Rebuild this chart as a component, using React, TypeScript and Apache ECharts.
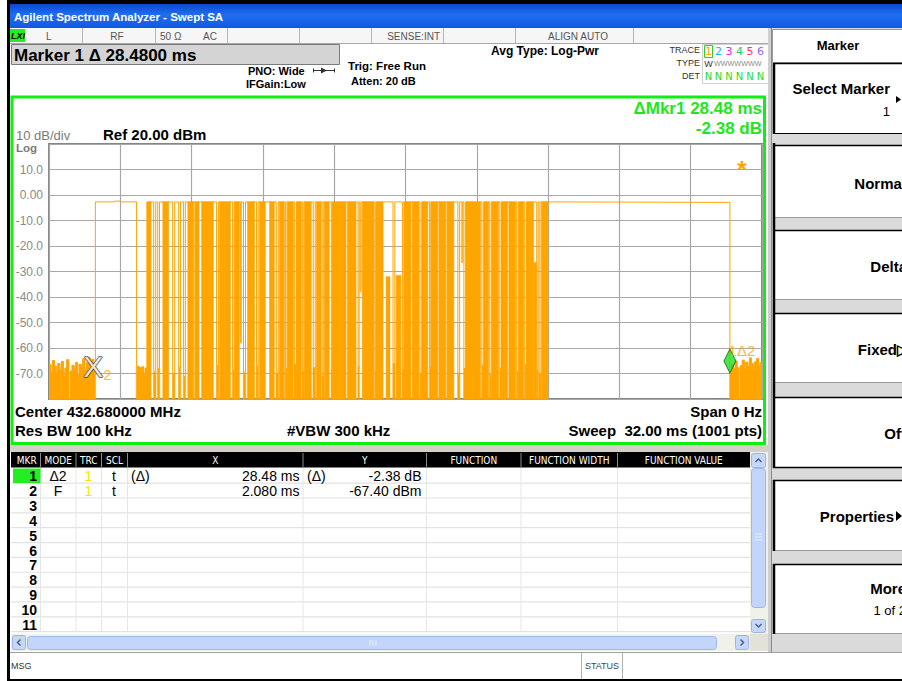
import React, { useEffect, useRef } from 'react';
import * as echarts from 'echarts';

// ---------------- data ----------------
const SWEEP_MS = 32;
const REF_LEVEL = 20;
const BOTTOM_LEVEL = -80;
const DIV_DB = 10;

const yTickValues = [10, 0, -10, -20, -30, -40, -50, -60, -70];
const yTickLabels = ['10.0', '0.00', '-10.0', '-20.0', '-30.0', '-40.0', '-50.0', '-60.0', '-70.0'];

const NOISE_DT = 0.08; // ms per displayed noise cell
// noise floor before the first burst (0 .. 2.08 ms)
const noiseA = [-66.5, -69.8, -64.9, -67.2, -70.4, -66.1, -68.7, -65.3, -71.2, -67.9, -64.6, -80, -69.1, -66.8, -68.3, -65.7, -70.6, -66.4, -67.9, -64.2, -68.8, -65.9, -63.8, -66.7, -64.5, -67.4];
// first long pulse (2.08 .. 3.93 ms)
const firstPulse: [number, number][] = [[2.08, -2.7], [2.95, -2.7], [2.95, -2.4], [3.2, -2.4], [3.2, -2.7], [3.93, -2.7]];
const NOISE_B_START = 3.93;
const noiseB = [-67.2, -67.5, -68.0, -67.4, -70.5, -67.9];
// burst region
const BURST_START = 4.41;
const BURST_END = 22.38;
const BURST_HIGH = -2.7;
// densely toggling parts [start ms, end ms, top dBm]
const denseBursts: [number, number, number][] = [
  [4.40, 4.57, BURST_HIGH], [5.12, 5.36, BURST_HIGH], [6.24, 6.48, BURST_HIGH], [6.55, 6.72, BURST_HIGH],
  [6.86, 7.15, BURST_HIGH], [7.16, 7.37, BURST_HIGH], [7.67, 7.86, BURST_HIGH], [7.89, 8.13, BURST_HIGH],
  [8.34, 8.53, BURST_HIGH], [8.92, 9.21, BURST_HIGH], [9.46, 9.70, BURST_HIGH], [9.91, 10.10, BURST_HIGH],
  [10.35, 10.55, BURST_HIGH], [10.71, 10.95, BURST_HIGH], [11.11, 11.31, BURST_HIGH], [11.47, 11.76, BURST_HIGH],
  [12.01, 12.20, BURST_HIGH], [12.37, 12.56, BURST_HIGH], [12.73, 13.01, BURST_HIGH], [13.04, 13.32, BURST_HIGH],
  [13.40, 13.77, BURST_HIGH], [14.07, 14.31, BURST_HIGH], [14.33, 14.58, BURST_HIGH], [14.69, 14.98, BURST_HIGH],
  [15.14, 15.29, -32.0], [15.59, 15.78, -31.5], [15.95, 16.23, BURST_HIGH], [16.31, 16.59, BURST_HIGH],
  [16.75, 16.99, BURST_HIGH], [17.16, 17.44, BURST_HIGH], [17.51, 17.80, BURST_HIGH], [17.87, 18.16, BURST_HIGH],
  [18.72, 19.01, BURST_HIGH], [19.03, 19.36, BURST_HIGH], [19.53, 19.72, BURST_HIGH], [19.89, 20.17, BURST_HIGH],
  [20.33, 20.57, BURST_HIGH], [20.65, 20.93, BURST_HIGH], [21.09, 21.29, BURST_HIGH], [21.45, 21.74, BURST_HIGH],
  [21.78, 21.86, -26.5], [22.12, 22.38, BURST_HIGH],
];
// short drops of the trace inside the burst region [start ms, end ms, level dBm]
const lowGaps: [number, number, number][] = [
  [4.70, 4.79, -69.5], [4.88, 4.96, -68.2], [5.55, 5.64, -70.1], [5.82, 5.90, -67.6], [6.04, 6.12, -71.3],
  [7.52, 7.61, -66.9], [8.24, 8.31, -68.8], [8.59, 8.63, -58.0], [8.73, 8.82, -69.7], [9.31, 9.39, -67.1],
  [10.20, 10.29, -70.4], [10.61, 10.68, -68.0], [11.01, 11.10, -66.5], [11.37, 11.44, -69.2], [11.86, 11.95, -67.8],
  [12.26, 12.33, -70.9], [12.67, 12.72, -68.4], [13.87, 13.92, -67.3], [13.96, 14.00, -38.0], [14.64, 14.68, -69.0],
  [15.44, 15.52, -66.2], [15.86, 15.93, -68.6], [16.65, 16.73, -70.2], [17.08, 17.14, -67.5], [18.35, 18.43, -69.9],
  [18.53, 18.57, -26.5], [18.62, 18.70, -68.1], [19.43, 19.51, -66.8], [19.78, 19.85, -70.6], [20.24, 20.31, -67.9],
  [20.99, 21.06, -69.3], [21.35, 21.43, -66.4], [21.89, 21.95, -68.7], [22.00, 22.08, -70.0],
];
// long flat part after the bursts
const FLAT_HIGH = -2.9;
const FLAT_END = 30.56;
// noise floor after the last burst (30.56 .. 32 ms)
const noiseC = [-69.8, -66.4, -68.1, -65.2, -67.7, -80, -66.9, -64.8, -68.4, -65.6, -67.3, -63.9, -66.1, -68.9, -65.4, -64.2, -67.0, -65.8];

// markers
const markerNames = ['1', '2'];
const markerTimes = [30.56, 2.08];
const markerLevels = [-69.78, -67.40];

// marker table
const tableHeaders = ['MKR', 'MODE', 'TRC', 'SCL', 'X', 'Y', 'FUNCTION', 'FUNCTION WIDTH', 'FUNCTION VALUE'];
const rowModes = ['Δ2', 'F'];
const rowTraces = ['1', '1'];
const rowScales = ['t', 't'];
const rowXPrefix = ['(Δ)', ''];
const rowX = ['28.48 ms', '2.080 ms'];
const rowYPrefix = ['(Δ)', ''];
const rowY = ['-2.38 dB', '-67.40 dBm'];

const softkeys = ['Normal', 'Delta', 'Fixed▷', 'Off'];

// ---------------- build ----------------
const ORANGE = '#ffa500';
const FONT = "'Liberation Sans', Arial, sans-serif";

function buildTrace(): [number, number][] {
  const pts: [number, number][] = [];
  noiseA.forEach((v, i) => { pts.push([i * NOISE_DT, v], [(i + 1) * NOISE_DT, v]); });
  firstPulse.forEach((p) => pts.push(p));
  noiseB.forEach((v, i) => { pts.push([NOISE_B_START + i * NOISE_DT, v], [NOISE_B_START + (i + 1) * NOISE_DT, v]); });
  pts.push([BURST_START, BURST_HIGH]);
  lowGaps.forEach(([s, e, l]) => { pts.push([s, BURST_HIGH], [s, l], [e, l], [e, BURST_HIGH]); });
  pts.push([BURST_END, BURST_HIGH], [BURST_END, FLAT_HIGH], [FLAT_END, FLAT_HIGH]);
  noiseC.forEach((v, i) => { pts.push([FLAT_END + i * NOISE_DT, v], [FLAT_END + (i + 1) * NOISE_DT, v]); });
  return pts;
}

function buildFills(): [number, number, number][] {
  const f: [number, number, number][] = [];
  noiseA.forEach((v, i) => f.push([i * NOISE_DT, (i + 1) * NOISE_DT, v]));
  noiseB.forEach((v, i) => f.push([NOISE_B_START + i * NOISE_DT, NOISE_B_START + (i + 1) * NOISE_DT, v]));
  denseBursts.forEach((d) => f.push(d));
  lowGaps.forEach(([s, e, l]) => { if (l < -60) f.push([s, e, l]); });
  noiseC.forEach((v, i) => f.push([FLAT_END + i * NOISE_DT, FLAT_END + (i + 1) * NOISE_DT, v]));
  return f;
}

// ---------------- chrome helpers ----------------
const R = (x: number, y: number, w: number, h: number, fill: any, stroke: string | null = null, lw = 1, r = 0) => ({
  type: 'rect', silent: true, shape: { x, y, width: w, height: h, r },
  style: { fill, stroke, lineWidth: lw },
});
const L = (x1: number, y1: number, x2: number, y2: number, stroke: string, lw = 1) => ({
  type: 'line', silent: true, shape: { x1, y1, x2, y2 }, style: { stroke, lineWidth: lw },
});
type TO = { size?: number; weight?: string; color?: string; align?: string; family?: string; italic?: boolean };
const T = (x: number, y: number, text: string, o: TO = {}) => ({
  type: 'text', silent: true, x, y,
  style: {
    text, fill: o.color || '#000', fontSize: o.size || 12, fontWeight: o.weight || 'normal',
    fontFamily: o.family || FONT, fontStyle: o.italic ? 'italic' : 'normal',
    align: o.align || 'left', verticalAlign: 'middle', textAlign: o.align || 'left', textVerticalAlign: 'middle',
  },
});
const P = (points: number[][], fill: string) => ({ type: 'polygon', silent: true, shape: { points }, style: { fill } });
const PL = (points: number[][], stroke: string, lw = 1) => ({ type: 'polyline', silent: true, shape: { points }, style: { stroke, lineWidth: lw, fill: 'none' } });

function buildChrome(): any[] {
  const g: any[] = [];
  // frame & title bar
  g.push(R(7, 0, 895, 4, '#000'));
  g.push(R(10, 4, 892, 24, new echarts.graphic.LinearGradient(0, 0, 0, 1, [
    { offset: 0, color: '#0a48d0' }, { offset: 0.45, color: '#1f6ff0' }, { offset: 1, color: '#1158e0' },
  ])));
  g.push(T(14, 16.5, 'Agilent Spectrum Analyzer - Swept SA', { size: 11.5, weight: 'bold', color: '#fff' }));
  g.push(R(7, 0, 3, 681, '#000'));

  // status row
  g.push(R(10, 28, 759, 15.5, '#f6f6f6'));
  g.push(L(10, 43.5, 769, 43.5, '#a8a8a8'));
  [82, 155, 227, 299, 371, 443, 515, 633].forEach((x) => g.push(L(x + 0.5, 28, x + 0.5, 43, '#b5b5b5')));
  g.push(R(10, 29, 15, 13, '#22ee22'));
  g.push(T(11, 35.5, 'LXI', { size: 9, weight: 'bold', italic: true }));
  const st = { size: 10, color: '#555' };
  g.push(T(46, 36, 'L', st));
  g.push(T(117, 36, 'RF', { ...st, align: 'center' }));
  g.push(T(160, 36, '50 Ω', st));
  g.push(T(203, 36, 'AC', st));
  g.push(T(440, 36, 'SENSE:INT', { ...st, align: 'right' }));
  g.push(T(578, 36, 'ALIGN AUTO', { ...st, align: 'center' }));

  // marker readout box and settings
  g.push(R(11.5, 44.5, 328, 20, '#d4d4d4', '#7a7a7a', 1));
  g.push(T(14, 55, 'Marker 1 Δ 28.4800 ms', { size: 17, weight: 'bold' }));
  g.push(T(248, 71, 'PNO: Wide', { size: 11, weight: 'bold' }));
  g.push(L(313, 70.5, 335, 70.5, '#333', 1));
  g.push(P([[321, 67.5], [327, 70.5], [321, 73.5]], '#333'));
  g.push(L(313.5, 68.5, 313.5, 72.5, '#333', 1));
  g.push(L(334.5, 68.5, 334.5, 72.5, '#333', 1));
  g.push(T(246, 84, 'IFGain:Low', { size: 11, weight: 'bold' }));
  g.push(T(348, 66, 'Trig: Free Run', { size: 11.5, weight: 'bold' }));
  g.push(T(351, 81, 'Atten: 20 dB', { size: 11, weight: 'bold' }));
  g.push(T(491, 51, 'Avg Type: Log-Pwr', { size: 12, weight: 'bold' }));

  // trace indicator
  g.push(T(700, 50, 'TRACE', { size: 9, color: '#333', align: 'right' }));
  g.push(T(700, 63, 'TYPE', { size: 9, color: '#333', align: 'right' }));
  g.push(T(700, 76, 'DET', { size: 9, color: '#333', align: 'right' }));
  g.push(R(702.5, 44.5, 66, 39, '#fff', '#d0d0d0', 1));
  g.push(R(704.5, 45.5, 8, 12, 'none', '#33cc33', 1));
  const trCols = [ORANGE, '#1eb4f0', '#ee22ee', '#22cc66', '#ff3366', '#9966ff'];
  const trX = [708.5, 718.5, 729, 739.5, 750, 760.5];
  trX.forEach((x, i) => {
    g.push(T(x, 51.5, String(i + 1), { size: 11, color: trCols[i], align: 'center', family: "'DejaVu Sans', sans-serif" }));
    g.push(T(x, 76, 'N', { size: 10, color: '#22dd22', align: 'center', family: "'DejaVu Sans', sans-serif" }));
  });
  g.push(T(708.5, 63.5, 'W', { size: 9, color: '#333', align: 'center' }));
  g.push(T(714, 63.5, 'WWWWWWW', { size: 7.2, color: '#888' }));

  // right softkey panel
  g.push(R(768, 28, 4, 624, '#cfcfcf'));
  g.push(L(771.5, 28, 771.5, 652, '#8c8c8c'));
  g.push(R(772, 28, 130, 624, '#dadada'));
  g.push(R(772.5, 29.5, 131, 33, '#fff', '#999', 1));
  g.push(T(838, 45.5, 'Marker', { size: 13, weight: 'bold', align: 'center' }));
  const btn = (y0: number, y1: number) => {
    g.push(R(773, y0, 130, y1 - y0, '#fff'));
    g.push(L(773, y0 + 0.5, 902, y0 + 0.5, '#000', 1.5));
    g.push(L(773, y1 - 0.5, 902, y1 - 0.5, '#9a9a9a', 1));
  };
  btn(63, 134);
  g.push(L(774, 63, 774, 134, '#000', 2.5));
  g.push(L(773, 133.5, 902, 133.5, '#000', 1));
  g.push(T(890, 88, 'Select Marker', { size: 15, weight: 'bold', align: 'right' }));
  g.push(T(890, 111, '1', { size: 13, align: 'right' }));
  g.push(P([[896, 96], [901, 99.5], [896, 103]], '#000'));
  const keyY = [[145, 218], [230, 300], [313, 383], [397, 468]];
  const keyTextY = [183, 266, 349, 433];
  const keyRight = [906, 907, 909, 906];
  keyY.forEach(([a, b], i) => {
    btn(a, b);
    g.push(T(keyRight[i], keyTextY[i], softkeys[i], { size: 15, weight: 'bold', align: 'right' }));
  });
  g.push(L(774, 143, 774, 468, '#000', 2.5));
  g.push(L(773, 467.5, 902, 467.5, '#000', 1.5));
  btn(480, 551);
  g.push(L(774, 480, 774, 551, '#000', 2.5));
  g.push(T(894, 516, 'Properties', { size: 15, weight: 'bold', align: 'right' }));
  g.push(P([[896, 511], [902, 516], [896, 521]], '#000'));
  btn(564, 634);
  g.push(L(774, 564, 774, 634, '#000', 2.5));
  g.push(T(906, 588, 'More', { size: 15, weight: 'bold', align: 'right' }));
  g.push(T(906, 610, '1 of 2', { size: 13, align: 'right' }));

  // display frame
  g.push(R(12, 97, 752.5, 346.5, 'none', '#11ee11', 3));
  g.push(T(16, 135.5, '10 dB/div', { size: 13, color: '#7a7a7a' }));
  g.push(T(16, 148, 'Log', { size: 11.5, weight: 'bold', color: '#7a7a7a' }));
  g.push(T(103, 134, 'Ref 20.00 dBm', { size: 15, weight: 'bold' }));
  g.push(T(762, 108, 'ΔMkr1 28.48 ms', { size: 17, weight: 'bold', color: '#1ee61e', align: 'right' }));
  g.push(T(762, 128.5, '-2.38 dB', { size: 17, weight: 'bold', color: '#1ee61e', align: 'right' }));
  g.push(T(742, 169, '*', { size: 24, weight: 'bold', color: ORANGE, align: 'center' }));
  g.push(T(15, 411, 'Center 432.680000 MHz', { size: 15, weight: 'bold' }));
  g.push(T(15, 430, 'Res BW 100 kHz', { size: 15, weight: 'bold' }));
  g.push(T(287, 430, '#VBW 300 kHz', { size: 15, weight: 'bold' }));
  g.push(T(762, 411, 'Span 0 Hz', { size: 15, weight: 'bold', align: 'right' }));
  g.push(T(762, 430, 'Sweep  32.00 ms (1001 pts)', { size: 15, weight: 'bold', align: 'right' }));

  // marker table
  g.push(R(10, 445, 758, 7, '#d4d0c8'));
  g.push(R(11, 452, 740, 15.5, '#000'));
  const colB = [13, 40.5, 76, 101.5, 127.5, 303, 426.5, 521, 617.5, 750];
  tableHeaders.forEach((h, i) => {
    g.push(T((colB[i] + colB[i + 1]) / 2, 460, h, { size: 10, color: '#fff', align: 'center', family: "'Liberation Sans Narrow', 'DejaVu Sans Condensed', sans-serif" }));
  });
  colB.slice(1, 9).forEach((x) => g.push(L(x, 453, x, 467, '#8a8a8a', 1)));
  const rowH = 14.85;
  const row0 = 468.3;
  for (let i = 0; i <= 11; i++) g.push(L(11, row0 + rowH * (i + 1), 750, row0 + rowH * (i + 1), '#e2e2e2', 1.2));
  colB.slice(1, 9).forEach((x) => g.push(L(x, 468, x, 632, '#e6e6e6', 1)));
  g.push(R(13, 468.5, 27.5, 14.5, '#22ee22'));
  for (let i = 0; i < 11; i++) {
    g.push(T(37, row0 + rowH * i + 8, String(i + 1), { size: 14, weight: 'bold', align: 'right' }));
  }
  rowModes.forEach((m, i) => {
    const y = row0 + rowH * i + 8;
    g.push(T(58, y, m, { size: 14, align: 'center' }));
    g.push(T(88.5, y, rowTraces[i], { size: 14, align: 'center', color: '#f5e800' }));
    g.push(T(114, y, rowScales[i], { size: 14, align: 'center' }));
    if (rowXPrefix[i]) g.push(T(131, y, rowXPrefix[i], { size: 14 }));
    g.push(T(299.5, y, rowX[i], { size: 14, align: 'right' }));
    if (rowYPrefix[i]) g.push(T(307, y, rowYPrefix[i], { size: 14 }));
    g.push(T(421.5, y, rowY[i], { size: 14, align: 'right' }));
  });
  // vertical scrollbar
  g.push(R(750, 452, 18, 182, '#f1f1ec'));
  g.push(R(751.5, 453.5, 14, 14, '#c7d7fa', '#9db4e4', 1, 2));
  g.push(PL([[755.5, 462], [758.5, 459], [761.5, 462]], '#4d6185', 1.5));
  g.push(R(751.5, 468.5, 14, 139, '#c3d5fb', '#9fb6e8', 1, 3));
  [534, 537, 540].forEach((y) => g.push(L(755, y, 762, y, '#e8efff', 1)));
  g.push(R(751.5, 619.5, 14, 13, '#c7d7fa', '#9db4e4', 1, 2));
  g.push(PL([[755.5, 624], [758.5, 627], [761.5, 624]], '#4d6185', 1.5));
  // horizontal scrollbar
  g.push(R(11, 634, 739, 17, '#f1f1ec'));
  g.push(R(12.5, 635.5, 13, 14, '#c7d7fa', '#9db4e4', 1, 2));
  g.push(PL([[20.5, 639.5], [17.5, 642.5], [20.5, 645.5]], '#4d6185', 1.5));
  g.push(R(27.5, 636.5, 689, 13, '#c3d5fb', '#9fb6e8', 1, 3));
  [370, 373, 376].forEach((x) => g.push(L(x, 640, x, 646, '#e8efff', 1)));
  g.push(R(735.5, 635.5, 13, 14, '#c7d7fa', '#9db4e4', 1, 2));
  g.push(PL([[740.5, 639.5], [743.5, 642.5], [740.5, 645.5]], '#4d6185', 1.5));
  g.push(R(750, 634, 18, 17, '#e4e2d8'));

  // bottom status bar
  g.push(R(10, 652, 892, 27, '#fff'));
  g.push(L(10, 652.5, 902, 652.5, '#a0a0a0', 1));
  g.push(T(11, 666, 'MSG', { size: 9, color: '#333' }));
  g.push(L(581.5, 653, 581.5, 679, '#b0b0b0', 1));
  g.push(L(622.5, 653, 622.5, 679, '#b0b0b0', 1));
  g.push(T(602, 666, 'STATUS', { size: 9, color: '#444', align: 'center' }));
  g.push(R(7, 679, 895, 2, '#000'));
  return g;
}

export default function App() {
  const ref = useRef<HTMLDivElement>(null);
  useEffect(() => {
    if (!ref.current) return;
    const chart = echarts.init(ref.current, undefined, { renderer: 'svg' });
    const trace = buildTrace();
    const fills = buildFills();
    const transparent = { color: 'rgba(0,0,0,0)' };
    chart.setOption({
      animation: false,
      backgroundColor: '#fff',
      grid: { left: 49, top: 144, width: 713, height: 255, show: true, borderColor: '#858585', borderWidth: 2, backgroundColor: 'transparent' },
      xAxis: {
        type: 'value', min: 0, max: SWEEP_MS, interval: SWEEP_MS / 10,
        axisLine: { show: false }, axisTick: { show: false }, axisLabel: { show: false },
        splitLine: { show: true, lineStyle: { color: '#a8a8a8', width: 1.2 } },
      },
      yAxis: {
        type: 'value', min: BOTTOM_LEVEL, max: REF_LEVEL, interval: DIV_DB,
        axisLine: { show: false }, axisTick: { show: false },
        axisLabel: {
          color: '#8a8a8a', fontSize: 12, fontFamily: FONT, margin: 6,
          formatter: (v: number) => { const i = yTickValues.indexOf(Math.round(v)); return i >= 0 ? yTickLabels[i] : ''; },
        },
        splitLine: { show: true, lineStyle: { color: '#a8a8a8', width: 1.2 } },
      },
      series: [
        {
          type: 'custom', name: 'fill', silent: true, clip: true, z: 2,
          encode: { x: [0, 1], y: 2 },
          data: fills,
          renderItem: (_p: any, api: any) => {
            const a = api.coord([api.value(0), api.value(2)]);
            const b = api.coord([api.value(1), BOTTOM_LEVEL]);
            return {
              type: 'rect',
              shape: { x: a[0] - 0.3, y: a[1], width: Math.max(b[0] - a[0], 0.8) + 0.6, height: b[1] - a[1] },
              style: { fill: ORANGE, stroke: ORANGE, lineWidth: 0.5 },
            };
          },
        },
        {
          type: 'line', name: 'Trace 1', data: trace, showSymbol: false, symbol: 'none', silent: true, z: 3,
          lineStyle: { color: ORANGE, width: 1 }, clip: true,
        },
        {
          type: 'scatter', name: 'markers', silent: true, z: 5, clip: false,
          data: [
            {
              value: [markerTimes[0], markerLevels[0]], symbol: 'diamond', symbolSize: [12, 24], symbolOffset: [0, -12],
              itemStyle: { color: '#22dd22', borderColor: '#0b5e0b', borderWidth: 1 },
            },
            {
              value: [markerTimes[0], markerLevels[0]], symbolSize: 1, itemStyle: transparent,
              label: { show: true, formatter: markerNames[0] + 'Δ' + markerNames[1], position: 'inside', offset: [12, -22], color: ORANGE, fontSize: 15, fontFamily: FONT },
            },
            {
              value: [markerTimes[1], markerLevels[1]], symbolSize: 1, itemStyle: transparent,
              label: { show: true, formatter: 'X', position: 'inside', offset: [-2, 0], color: '#fff', fontSize: 30, fontFamily: FONT, textBorderColor: '#2a2a2a', textBorderWidth: 1.5 },
            },
            {
              value: [markerTimes[1], markerLevels[1]], symbolSize: 1, itemStyle: transparent,
              label: { show: true, formatter: markerNames[1], position: 'inside', offset: [12, 8], color: ORANGE, fontSize: 14, fontFamily: FONT },
            },
          ],
        },
      ],
      graphic: { elements: buildChrome() },
    });
    return () => chart.dispose();
  }, []);
  return <div ref={ref} style={{ position: 'fixed', left: 0, top: 0, width: 902, height: 681, overflow: 'hidden' }} />;
}
